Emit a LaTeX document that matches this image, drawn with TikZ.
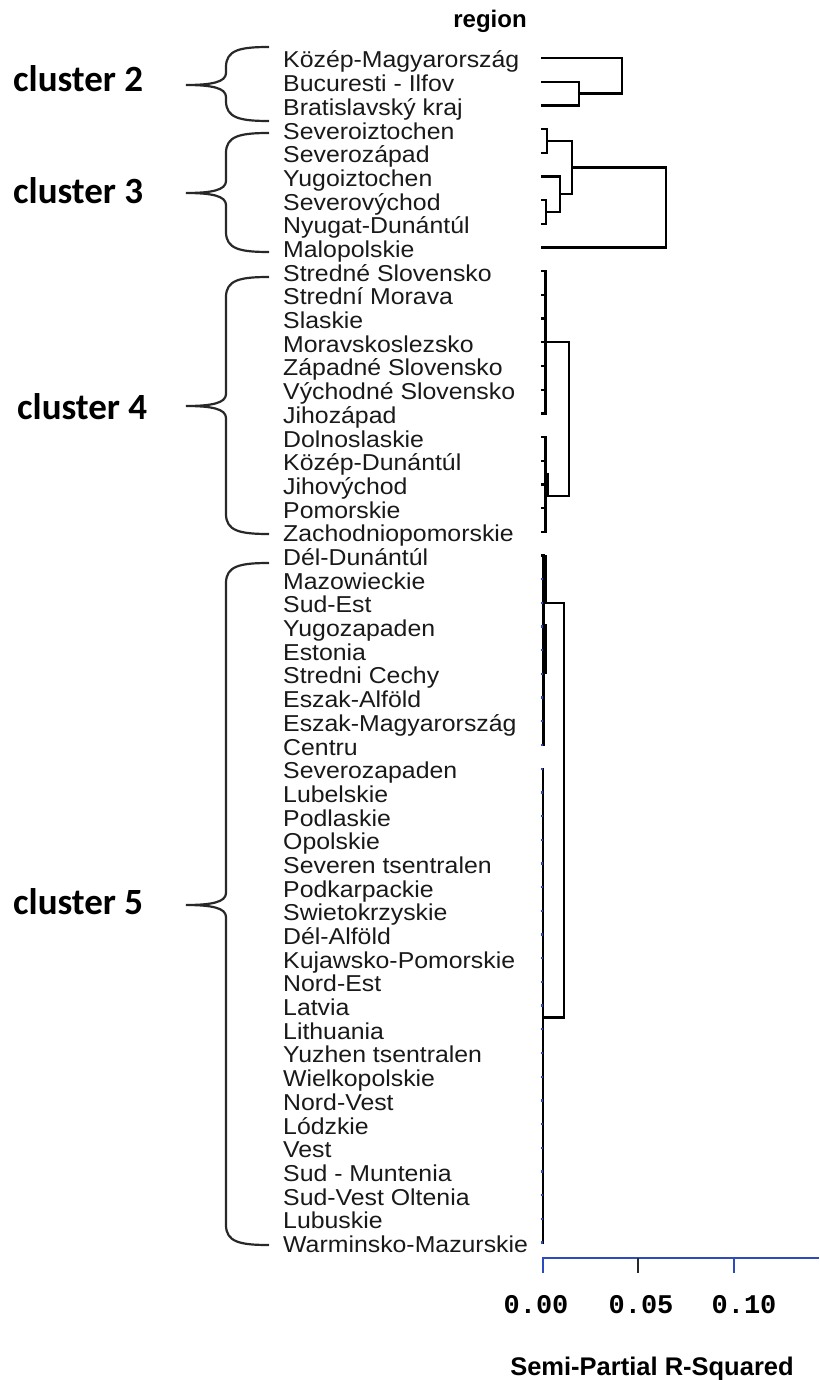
\documentclass[tikz,border=0pt]{standalone}
\usepackage{fontspec}
\setmainfont{Liberation Sans}
\newfontfamily\leaffont[FakeStretch=1.08]{Liberation Sans}
\newfontfamily\clusterfont{Carlito}
\newfontfamily\tickfont{Liberation Mono}
\definecolor{axisblue}{RGB}{45,75,190}
\definecolor{inkgray}{RGB}{40,40,40}

% vertical position of dendrogram row k
\pgfmathdeclarefunction{row}{1}{\pgfmathparse{58+23.69*#1}}

% curly brace: #1 name of its tip, #2 top, #3 tip, #4 bottom
\newcommand\clbrace[4]{%
  \draw[bracepath] (269,#2) .. controls (240,#2) and (226,{#2+3}) .. (226,{#2+20})
    -- (226,{#3-12}) .. controls (226,{#3-3}) and (212,#3) .. (186,#3)
    .. controls (212,#3) and (226,{#3+3}) .. (226,{#3+12})
    -- (226,{#4-20}) .. controls (226,{#4-3}) and (240,#4) .. (269,#4);
  \coordinate (#1) at (186,#3);
}

\begin{document}
\begin{tikzpicture}[x=1pt,y=-1pt,
  leafname/.style={anchor=base west, inner sep=0pt, text=black!90,
    font={\leaffont\fontsize{23}{23}\selectfont}},
  clab/.style={anchor=base west, inner sep=0pt,
    font={\clusterfont\bfseries\fontsize{37}{37}\selectfont}},
  boldlab/.style={anchor=base, inner sep=0pt,
    font={\bfseries\fontsize{24}{24}\selectfont}},
  ticklab/.style={anchor=base, inner sep=0pt,
    font={\tickfont\bfseries\fontsize{27}{27}\selectfont}},
  dendro/.style={line width=2.3pt, black},
  heavy/.style={line width=4.6pt, black},
  leaftick/.style={line width=2.3pt, axisblue},
  bracepath/.style={line width=2.2pt, inkgray},
  axisline/.style={line width=2.2pt, axisblue},
]
\useasboundingbox (0,0) rectangle (819,1380);

% title
\node[boldlab] (title) at (490,28) {region};

% region names and their leaf points
\foreach \lbl [count=\i from 0] in {Közép-Magyarország, Bucuresti - Ilfov,
  Bratislavský kraj, Severoiztochen, Severozápad, Yugoiztochen, Severovýchod,
  Nyugat-Dunántúl, Malopolskie, Stredné Slovensko, Strední Morava, Slaskie,
  Moravskoslezsko, Západné Slovensko, Východné Slovensko, Jihozápad,
  Dolnoslaskie, Közép-Dunántúl, Jihovýchod, Pomorskie, Zachodniopomorskie,
  Dél-Dunántúl, Mazowieckie, Sud-Est, Yugozapaden, Estonia, Stredni Cechy,
  Eszak-Alföld, Eszak-Magyarország, Centru, Severozapaden, Lubelskie,
  Podlaskie, Opolskie, Severen tsentralen, Podkarpackie, Swietokrzyskie,
  Dél-Alföld, Kujawsko-Pomorskie, Nord-Est, Latvia, Lithuania,
  Yuzhen tsentralen, Wielkopolskie, Nord-Vest, Lódzkie, Vest,
  Sud - Muntenia, Sud-Vest Oltenia, Lubuskie, Warminsko-Mazurskie} {
  \node[leafname] (l\i) at (283,{row(\i)+10}) {\lbl};
  \coordinate (p\i) at (541,{row(\i)});
}

% ---- cluster 2
\coordinate (c2a) at (579,{row(1.5)});
\coordinate (c2) at (622,{row(0.75)});
\draw[dendro] (p1) -| (c2a) (p2) -| (c2a);
\draw[dendro] (c2a) -| (c2) (p0) -| (c2);

% ---- cluster 3
\coordinate (c3a) at (547,{row(3.5)});
\coordinate (c3b) at (546,{row(6.5)});
\coordinate (c3c) at (560,{row(5.75)});
\coordinate (c3d) at (572,{row(4.625)});
\coordinate (c3) at (666,{row(6.3125)});
\draw[dendro] (p3) -| (c3a) (p4) -| (c3a);
\draw[dendro] (p6) -| (c3b) (p7) -| (c3b);
\draw[dendro] (p5) -| (c3c) (c3b) -| (c3c);
\draw[dendro] (c3a) -| (c3d) (c3c) -| (c3d);
\draw[dendro] (c3d) -| (c3) (p8) -| (c3);

% ---- cluster 4
\coordinate (c4a) at (545.5,{row(12)});
\coordinate (c4b) at (545.5,{row(18.5)});
\coordinate (c4) at (569,{row(15.25)});
\foreach \i in {9,...,15} { \draw[dendro] (p\i) -| (c4a); }
\foreach \i in {16,...,20} { \draw[dendro] (p\i) -| (c4b); }
\draw[heavy] (547,{row(17.5)}) -- (547,{row(18.5)});
\draw[dendro] (c4a) -| (c4) (c4b) -| (c4);

% ---- cluster 5
\coordinate (c5a) at (543.5,{row(23)});
\coordinate (c5b) at (543,{row(40.5)});
\coordinate (c5) at (564.3,{row(31.75)});
\foreach \i in {21,...,29} { \draw[dendro] (p\i) -| (c5a); }
\foreach \i in {30,...,50} { \draw[dendro] (p\i) -| (c5b); }
\draw[heavy] (545,{row(21)}) -- (545,{row(23)});
\draw[heavy] (545,{row(23.9)}) -- (545,{row(26)});
\draw[dendro] (c5a) -| (c5) (c5b) -| (c5);
\foreach \i in {22,...,50} { \draw[leaftick] (p\i) -- ++(1.6,0); }

% ---- braces and cluster names
\clbrace{b2}{47}{85}{121}
\clbrace{b3}{133}{193}{252}
\clbrace{b4}{277}{406}{534}
\clbrace{b5}{563}{905}{1245}
\node[clab] (k2) at (13,92) {cluster 2};
\node[clab] (k3) at (13,204) {cluster 3};
\node[clab] (k4) at (17,419) {cluster 4};
\node[clab] (k5) at (13,914) {cluster 5};

% ---- axis
\coordinate (a0) at (543,1258);
\coordinate (a1) at (637.7,1258);
\coordinate (a2) at (734,1258);
\coordinate (aend) at (819,1258);
\draw[axisline] ([yshift=-15pt]a0) -- (a0) -- (aend);
\draw[line width=2.2pt, inkgray] (a1) -- ++(0,15);
\draw[axisline] (a2) -- ++(0,15);
\node[ticklab] (t0) at (536,1313) {0.00};
\node[ticklab] (t1) at (641,1313) {0.05};
\node[ticklab] (t2) at (744,1313) {0.10};
\node[boldlab, font={\bfseries\fontsize{25.5}{25.5}\selectfont}] (xtitle) at (652,1375) {Semi-Partial R-Squared};
\end{tikzpicture}
\end{document}
